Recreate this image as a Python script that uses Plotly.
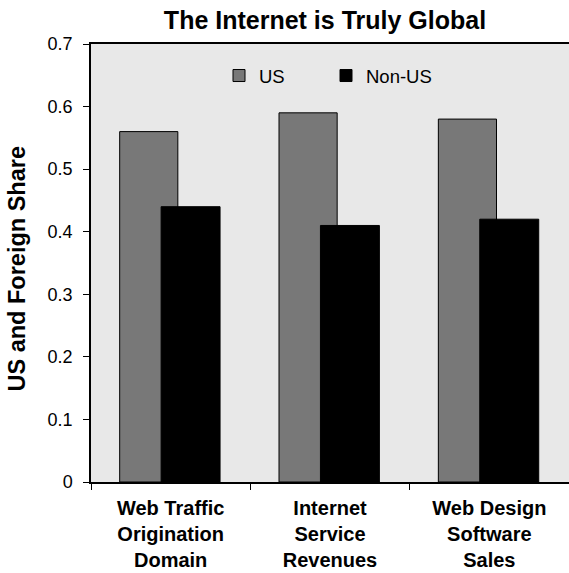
import plotly.graph_objects as go

# Share of activity by region
categories = [
    "Web Traffic<br>Origination<br>Domain",
    "Internet<br>Service<br>Revenues",
    "Web Design<br>Software<br>Sales",
]
us_share = [0.56, 0.59, 0.58]
non_us_share = [0.44, 0.41, 0.42]
y_ticks = [0, 0.1, 0.2, 0.3, 0.4, 0.5, 0.6, 0.7]
y_tick_text = ["0", "0.1", "0.2", "0.3", "0.4", "0.5", "0.6", "0.7"]

FONT = "Liberation Sans, Arial, sans-serif"
W, H = 569, 573
M_L, M_R, M_T, M_B = 91, 0, 44, 91
plot_w = W - M_L - M_R
plot_h = H - M_T - M_B

fig = go.Figure()
fig.add_trace(go.Bar(
    name="US", x=categories, y=us_share,
    width=0.365, offset=-0.32,
    marker=dict(color="#787878", line=dict(color="black", width=1)),
))
fig.add_trace(go.Bar(
    name="Non-US", x=categories, y=non_us_share,
    width=0.37, offset=-0.06,
    marker=dict(color="black", line=dict(color="black", width=1)),
))

fig.update_layout(
    width=W, height=H,
    margin=dict(l=M_L, r=M_R, t=M_T, b=M_B),
    paper_bgcolor="white",
    plot_bgcolor="#E8E8E8",
    barmode="overlay",
    font=dict(family=FONT, color="black"),
    title=dict(
        text="<b>The Internet is Truly Global</b>",
        font=dict(size=25, family=FONT, color="black"),
        x=325 / W, xanchor="center", xref="container",
        y=1 - 20 / H, yanchor="middle", yref="container",
    ),
    legend=dict(
        orientation="h",
        x=(219 - M_L) / plot_w, xanchor="left",
        y=1 - (76 - M_T) / plot_h, yanchor="middle",
        bgcolor="rgba(0,0,0,0)",
        font=dict(size=18.5, family=FONT, color="black"),
        itemwidth=30,
        entrywidth=62,
        traceorder="normal",
    ),
    xaxis=dict(
        range=[-0.5, 2.5],
        automargin=False,
        showline=True, linecolor="black", linewidth=1.5, mirror=True,
        ticks="outside", tickson="boundaries", ticklen=6, tickcolor="black",
        ticklabelstandoff=7,
        tickfont=dict(size=20, family=FONT, color="black", weight="bold"),
        showgrid=False,
    ),
    yaxis=dict(
        range=[0, 0.7],
        automargin=False,
        tickvals=y_ticks, ticktext=y_tick_text,
        showline=True, linecolor="black", linewidth=1.5,
        ticks="outside", ticklen=6, tickcolor="black",
        ticklabelstandoff=7,
        tickfont=dict(size=18, family=FONT, color="black"),
        showgrid=False, zeroline=False,
    ),
    annotations=[dict(
        text="<b>US and Foreign Share</b>",
        xref="paper", yref="paper",
        x=(16.5 - M_L) / plot_w, y=1 - (269 - M_T) / plot_h,
        xanchor="center", yanchor="middle",
        textangle=-90, showarrow=False,
        font=dict(size=23.5, family=FONT, color="black"),
    )],
)

fig.write_html("out.html")
